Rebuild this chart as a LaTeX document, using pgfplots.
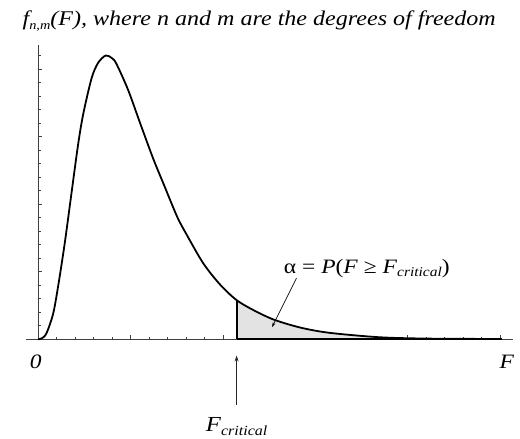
\documentclass[border=0pt]{standalone}
\usepackage{fontspec}
\setmainfont{Liberation Serif}[FakeStretch=1.15]
\usepackage{pgfplots}
\usepackage{pgfplotstable}
\pgfplotsset{compat=1.18}
\usetikzlibrary{arrows.meta}

% F density, n = 10, m = 20
\pgfplotstableread{
x      y
0      0
0.040  0.003
0.090  0.017
0.163  0.075
0.217  0.156
0.289  0.284
0.362  0.432
0.433  0.575
0.488  0.665
0.579  0.772
0.650  0.818
0.733  0.840
0.800  0.832
0.849  0.815
0.975  0.738
1.102  0.642
1.246  0.535
1.372  0.451
1.445  0.402
1.517  0.356
1.608  0.310
1.788  0.225
1.970  0.162
2.149  0.116
2.348  0.084
2.564  0.057
2.850  0.034
3.160  0.019
3.702  0.006
4.244  0.002
5.020  0.001
}\density

% upper tail beyond the critical value
\pgfplotstableread{
x      y
2.149  0.116
2.348  0.084
2.564  0.057
2.850  0.034
3.160  0.019
3.702  0.006
4.244  0.002
5.020  0.001
}\tail

\begin{document}
\begin{tikzpicture}
\useasboundingbox (0,0) rectangle (520bp,-439bp);
\begin{axis}[
  at={(26bp,-339.3bp)}, anchor=south west,
  scale only axis, width=487bp, height=294.3bp,
  xmin=-0.13, xmax=5.14, ymin=0, ymax=0.871,
  axis lines=middle,
  axis line style={-, black!75, line width=0.7pt},
  xtick={0,1,2,3,4,5},
  minor xtick={0.2,0.4,0.6,0.8,1.2,1.4,1.6,1.8,2.2,2.4,2.6,2.8,3.2,3.4,3.6,3.8,4.2,4.4,4.6,4.8},
  ytick={0,0.2,0.4,0.6,0.8},
  minor ytick={0.04,0.08,0.12,0.16,0.24,0.28,0.32,0.36,0.44,0.48,0.52,0.56,0.64,0.68,0.72,0.76,0.84},
  xticklabels={}, yticklabels={},
  tick align=inside,
  major tick length=4bp, minor tick length=2.5bp,
  tick style={black!75, line width=0.6pt},
  clip=false,
]
% shaded tail area
\addplot[fill=black!11, draw=none, smooth] table[x=x, y=y] {\tail} \closedcycle;
\addplot[black, line width=1.8pt] coordinates {(2.149,0) (2.149,0.116)};
\addplot[black, line width=1.8pt] coordinates {(2.149,0) (5.02,0)};
% density curve
\addplot[black, line width=1.8pt, smooth] table[x=x, y=y] {\density};

% labels
\node[anchor=base west, inner sep=0pt, font=\fontsize{21}{23}\selectfont\itshape]
  at (axis cs:-0.169,0.930)
  {f\raisebox{-0.45ex}{\fontsize{12.5}{13}\selectfont n,m}(F), where n and m are the degrees of freedom};
\node[anchor=base, font=\fontsize{20.5}{23}\selectfont] at (axis cs:3.558,0.196)
  {α = \textit{P}(\textit{F} ≥ \textit{F}\raisebox{-0.4ex}{\fontsize{13.5}{14}\selectfont\itshape critical})};
\node[font=\fontsize{20.5}{23}\selectfont\itshape] at (axis cs:-0.025,-0.066) {0};
\node[font=\fontsize{20.5}{23}\selectfont\itshape] at (axis cs:5.073,-0.066) {F};
\node[anchor=base, font=\fontsize{21.5}{24}\selectfont] at (axis cs:2.149,-0.274)
  {\textit{F}\raisebox{-0.35ex}{\fontsize{14}{15}\selectfont\itshape critical}};

% pointers
\draw[-{Stealth[length=6bp,width=4bp]}, black!85, line width=0.7pt]
  (axis cs:2.149,-0.194) -- (axis cs:2.149,-0.048);
\draw[-{Stealth[length=5bp,width=3bp]}, black, line width=0.7pt]
  (axis cs:2.797,0.181) -- (axis cs:2.532,0.036);
\end{axis}
\end{tikzpicture}
\end{document}
